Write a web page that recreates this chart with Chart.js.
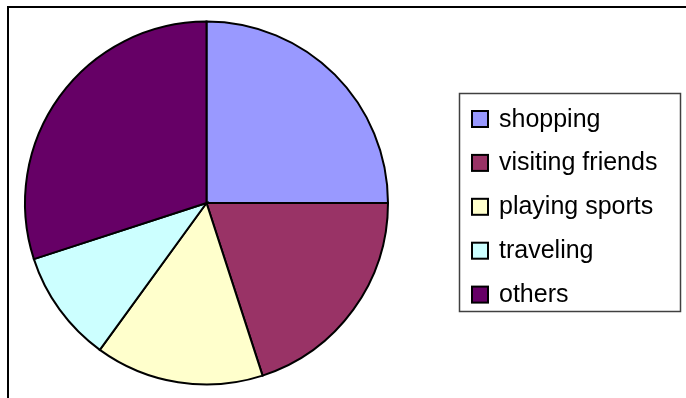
<!DOCTYPE html>
<html>
<head>
<meta charset="utf-8">
<script src="https://cdn.jsdelivr.net/npm/chart.js@4"></script>
<style>
  html, body { margin: 0; padding: 0; background: #fff; }
  #wrap { width: 686px; height: 398px; position: relative; }
</style>
</head>
<body>
<div id="wrap"><canvas id="chartPie" width="686" height="398"></canvas></div>
<script>
const activityLabels = ["shopping", "visiting friends", "playing sports", "traveling", "others"];
const activityShares = [25, 20, 15, 10, 30];
const activityColors = ["#9999FF", "#993366", "#FFFFCC", "#CCFFFF", "#660066"];

// outer frame: top and left lines only (the rest is cropped off)
const framePlugin = {
  id: "frame",
  beforeDraw(chart) {
    const ctx = chart.ctx;
    ctx.save();
    ctx.strokeStyle = "#000";
    ctx.lineWidth = 2;
    ctx.beginPath();
    ctx.moveTo(686, 7);
    ctx.lineTo(8, 7);
    ctx.lineTo(8, 398);
    ctx.stroke();
    ctx.restore();
  },
};

// legend in a box on the right, like the spreadsheet original
const boxLegendPlugin = {
  id: "boxLegend",
  afterDraw(chart) {
    const ctx = chart.ctx;
    const ds = chart.data.datasets[0];
    ctx.save();
    ctx.strokeStyle = "#404040";
    ctx.lineWidth = 1.5;
    ctx.strokeRect(459.5, 93.5, 221, 218);

    ctx.font = "25px 'Liberation Sans', Arial, sans-serif";
    ctx.textBaseline = "alphabetic";
    chart.data.labels.forEach((label, i) => {
      const y = 111 + i * 43.9;
      ctx.fillStyle = ds.backgroundColor[i];
      ctx.fillRect(472, y, 16, 16);
      ctx.strokeStyle = "#000";
      ctx.lineWidth = 2;
      ctx.strokeRect(472, y, 16, 16);
      ctx.fillStyle = "#000";
      ctx.fillText(label, 499, 126.7 + i * 43.75);
    });
    ctx.restore();
  },
};

const ctx = document.getElementById("chartPie").getContext("2d");
const myChart = new Chart(ctx, {
  type: "pie",
  data: {
    labels: activityLabels,
    datasets: [
      {
        data: activityShares,
        backgroundColor: activityColors,
        borderColor: "#000",
        borderWidth: 2,
        borderJoinStyle: "miter",
      },
    ],
  },
  options: {
    responsive: false,
    animation: false,
    layout: {
      padding: { left: 24, right: 297, top: 20, bottom: 12 },
    },
    plugins: {
      legend: { display: false },
      tooltip: { enabled: false },
    },
  },
  plugins: [framePlugin, boxLegendPlugin],
});
</script>
</body>
</html>
